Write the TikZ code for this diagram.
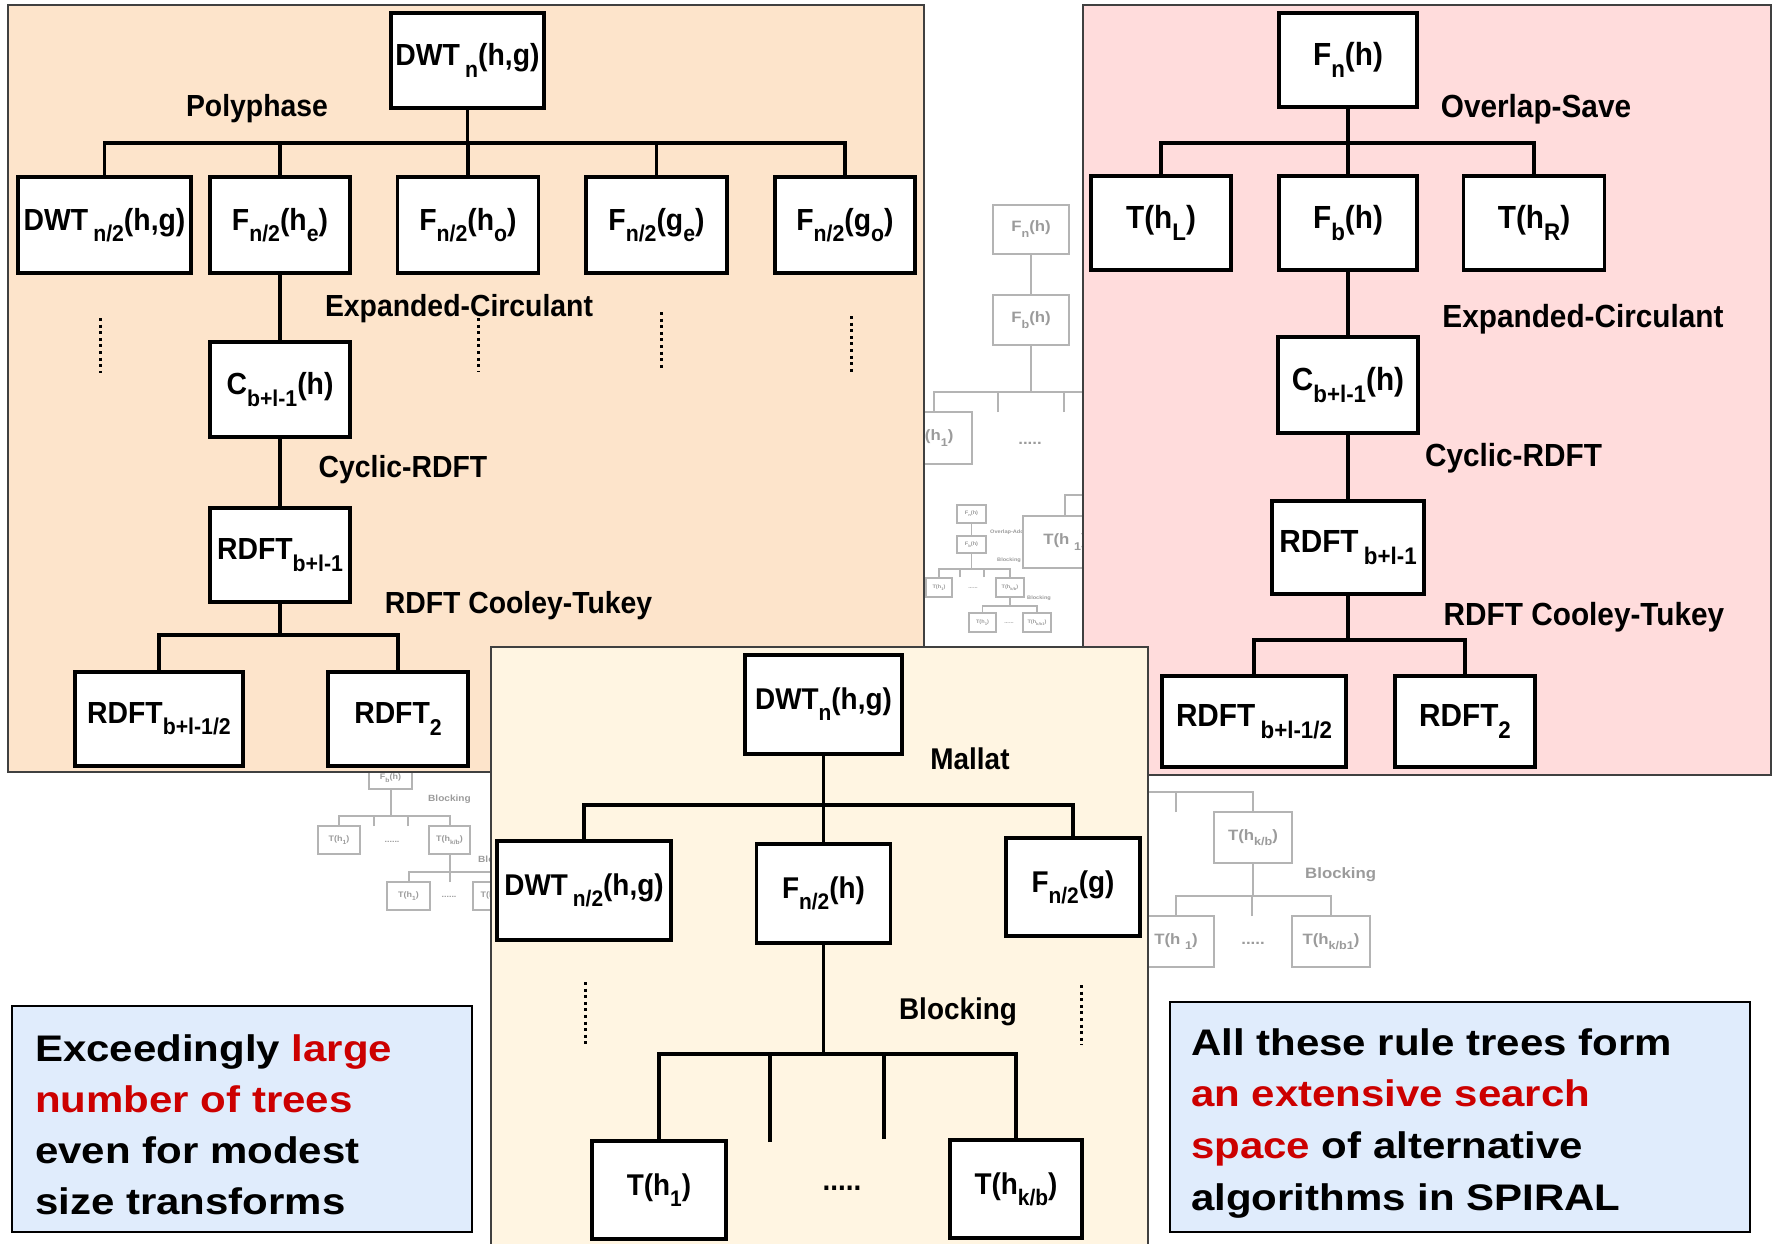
\documentclass[tikz,border=0pt]{standalone}
\usepackage{fontspec}
\setmainfont{Liberation Sans}
\newfontfamily\lblfont{Liberation Sans}[FakeStretch=1.12]
\newfontfamily\narrowfont{Liberation Sans}[FakeStretch=0.93]
\newfontfamily\bigfont{Liberation Sans}[FakeStretch=1.135]
\newcommand{\dn}[1]{\raisebox{-0.7ex}{\scalebox{0.75}{#1}}}
\newcommand{\tfont}[1]{\lblfont\bfseries\fontsize{#1}{#1}\selectfont}
\newcommand{\mfont}[1]{\narrowfont\bfseries\fontsize{#1}{#1}\selectfont}
\definecolor{peach}{RGB}{253,228,203}
\definecolor{rosebg}{RGB}{255,220,220}
\definecolor{creambg}{RGB}{255,245,226}
\definecolor{bluebg}{RGB}{224,236,252}
\definecolor{redtxt}{RGB}{204,0,0}
\definecolor{ghost}{RGB}{180,180,180}
\definecolor{ghosttxt}{RGB}{155,155,155}
\begin{document}
\begin{tikzpicture}[x=1pt,y=-1pt,
  tb/.style={draw=black, line width=3.5pt, fill=white, inner sep=0pt, font=\mfont{#1}},
  sz/.style 2 args={minimum width=#1, minimum height=#2},
  lab/.style={anchor=base, inner sep=0pt, font=\mfont{#1}},
  conn/.style={line width=3.5pt},
  dotl/.style={line width=3pt, dash pattern=on 3pt off 3.6pt},
  gb/.style={draw=ghost, line width=2pt, fill=white, inner sep=0pt, text=ghosttxt, font=\tfont{#1}},
  gt/.style={inner sep=0pt, text=ghosttxt, font=\tfont{#1}},
  gconn/.style={draw=ghost, line width=2pt},
  panel/.style={draw=black!75, line width=1.5pt}]
\useasboundingbox (0,0) rectangle (1777,1243);
\fill[white] (0,0) rectangle (1777,1243);

% ---------- faded tree 1 (between the upper panels) ----------
\node[gb=15, sz={76}{49}] (g1a) at (1031,229) {F\dn{n}(h)};
\node[gb=15, sz={76}{50}] (g1b) at (1031,320) {F\dn{b}(h)};
\draw[gconn] (g1a.south) -- (g1b.north);
\coordinate (g1bar) at (0,392);
\node[gb=15, sz={76}{52}] (g1c) at (934,438) {T(h\dn{1})};
\node[gb=15, sz={76}{52}] (g1d) at (1130,438) {T(h\dn{2})};
\draw[gconn] (g1b.south) -- (g1b.south |- g1bar);
\draw[gconn] (g1c.north) -- (g1c.north |- g1bar) -- (g1d.north |- g1bar) -- (g1d.north);
\coordinate (g1s1) at (998,412);
\coordinate (g1s2) at (1064,412);
\draw[gconn] (g1s1) -- (g1s1 |- g1bar);
\draw[gconn] (g1s2) -- (g1s2 |- g1bar);
\node[gt=15] (g1dots) at (1030,443) {.....};

% tiny tree
\node[gb=5, sz={29}{18}, line width=1.2pt] (t1) at (971.5,514) {F\dn{n}(h)};
\node[gt=5, anchor=west] (t1l) at (990,532) {Overlap-Add};
\node[gb=5, sz={29}{17}, line width=1.2pt] (t2) at (971.5,544.5) {F\dn{b}(h)};
\draw[gconn, line width=1.2pt] (t1.south) -- (t2.north);
\node[gt=5, anchor=west] (t2l) at (997,560) {Blocking};
\coordinate (tb1) at (0,569);
\node[gb=5, sz={26}{19}, line width=1.2pt] (t3) at (939,587.5) {T(h\dn{1})};
\node[gb=5, sz={28}{19}, line width=1.2pt] (t4) at (1010,587.5) {T(h\dn{k/b})};
\node[gt=5] (t34) at (973,588) {......};
\coordinate (ts1) at (960,577);
\coordinate (ts2) at (984,577);
\draw[gconn, line width=1.2pt] (t2.south) -- (t2.south |- tb1);
\draw[gconn, line width=1.2pt] (t3.north) -- (t3.north |- tb1) -- (t4.north |- tb1) -- (t4.north);
\draw[gconn, line width=1.2pt] (ts1) -- (ts1 |- tb1);
\draw[gconn, line width=1.2pt] (ts2) -- (ts2 |- tb1);
\node[gt=5, anchor=west] (t4l) at (1027,598) {Blocking};
\coordinate (tb2) at (0,606);
\node[gb=5, sz={27}{19}, line width=1.2pt] (t5) at (982.5,622.5) {T(h\dn{1})};
\node[gb=5, sz={28}{19}, line width=1.2pt] (t6) at (1037,622.5) {T(h\dn{k/b1})};
\node[gt=5] (t56) at (1009,623) {......};
\draw[gconn, line width=1.2pt] (t4.south) -- (t4.south |- tb2);
\draw[gconn, line width=1.2pt] (t5.north) -- (t5.north |- tb2) -- (t6.north |- tb2) -- (t6.north);

% big faded T(h 1)
\coordinate (g1bar2) at (0,495);
\coordinate (g1r) at (1110,495);
\node[gb=15, sz={84}{52}] (g1e) at (1065,542) {T(h \dn{1})};
\draw[gconn] (g1e.north) -- (g1e.north |- g1bar2) -- (g1r);

% ---------- faded tree 2 (below left panel) ----------
\node[gb=8, sz={43}{22}] (g2a) at (390.5,778) {F\dn{b}(h)};
\node[gt=9, anchor=west] (g2l1) at (428,799) {Blocking};
\coordinate (g2bar) at (0,816);
\node[gb=8, sz={42}{28}] (g2b) at (339,840) {T(h\dn{1})};
\node[gb=8, sz={41}{28}] (g2c) at (449.5,840) {T(h\dn{k/b})};
\node[gt=8] (g2dots) at (392,842) {......};
\coordinate (g2s1) at (374,826);
\coordinate (g2s2) at (408,826);
\draw[gconn] (g2a.south) -- (g2a.south |- g2bar);
\draw[gconn] (g2b.north) -- (g2b.north |- g2bar) -- (g2c.north |- g2bar) -- (g2c.north);
\draw[gconn] (g2s1) -- (g2s1 |- g2bar);
\draw[gconn] (g2s2) -- (g2s2 |- g2bar);
\node[gt=9, anchor=west] (g2l2) at (478,860) {Blocking};
\coordinate (g2bar2) at (0,872);
\node[gb=8, sz={43}{28}] (g2d) at (408.5,896) {T(h\dn{1})};
\node[gb=8, sz={43}{28}] (g2e) at (494,896) {T(h\dn{k/b})};
\node[gt=8] (g2dots2) at (449,897) {......};
\coordinate (g2s3) at (450,882);
\draw[gconn] (g2c.south) -- (g2c.south |- g2bar2);
\draw[gconn] (g2d.north) -- (g2d.north |- g2bar2) -- (g2e.north |- g2bar2) -- (g2e.north);
\draw[gconn] (g2s3) -- (g2s3 |- g2bar2);

% ---------- faded tree 3 (right of middle panel) ----------
\coordinate (g3bar) at (0,792);
\coordinate (g3l) at (1100,792);
\node[gb=15, sz={78}{51}] (g3a) at (1253,837.5) {T(h\dn{k/b})};
\draw[gconn] (g3l) -- (g3a.north |- g3bar) -- (g3a.north);
\coordinate (g3s) at (1176,812);
\draw[gconn] (g3s) -- (g3s |- g3bar);
\node[gt=15] (g3dots) at (1138,844) {.....};
\node[gt=15, anchor=west] (g3lab) at (1305,875) {Blocking};
\coordinate (g3bar2) at (0,896);
\node[gb=15, sz={76}{51}] (g3b) at (1176,941.5) {T(h \dn{1})};
\node[gb=15, sz={78}{51}] (g3c) at (1331,941.5) {T(h\dn{k/b1})};
\coordinate (g3s2) at (1252,916);
\draw[gconn] (g3a.south) -- (g3a.south |- g3bar2);
\draw[gconn] (g3b.north) -- (g3b.north |- g3bar2) -- (g3c.north |- g3bar2) -- (g3c.north);
\draw[gconn] (g3s2) -- (g3s2 |- g3bar2);
\node[gt=15] (g3dots2) at (1253,943) {.....};

% ---------- orange panel ----------
\filldraw[panel, fill=peach] (8,5) rectangle (924,772);
\node[tb=30.5, sz={153}{95}] (oR) at (467.5,60.5) {DWT\,\dn{n}(h,g)};
\node[lab=30.5] (oLp) at (257,116) {Polyphase};
\coordinate (ob1) at (0,143);
\node[tb=30.5, sz={173}{96}] (o1) at (104.5,225) {DWT\,\dn{n/2}(h,g)};
\node[tb=30.5, sz={140}{96}] (o2) at (280,225) {F\dn{n/2}(h\dn{e})};
\node[tb=30.5, sz={141}{96}] (o3) at (468,225) {F\dn{n/2}(h\dn{o})};
\node[tb=30.5, sz={141}{96}] (o4) at (656.5,225) {F\dn{n/2}(g\dn{e})};
\node[tb=30.5, sz={140}{96}] (o5) at (845,225) {F\dn{n/2}(g\dn{o})};
\draw[conn] (oR.south) -- (oR.south |- ob1);
\draw[conn] (o1.north) -- (o1.north |- ob1) -- (o5.north |- ob1) -- (o5.north);
\foreach \c in {o2,o3,o4} \draw[conn] (\c.north) -- (\c.north |- ob1);
\coordinate (od1a) at (100,318); \coordinate (od1b) at (100,373);
\coordinate (od2a) at (478,318); \coordinate (od2b) at (478,372);
\coordinate (od3a) at (661,312); \coordinate (od3b) at (661,369);
\coordinate (od4a) at (851,316); \coordinate (od4b) at (851,374);
\draw[dotl] (od1a) -- (od1b);
\draw[dotl] (od2a) -- (od2b);
\draw[dotl] (od3a) -- (od3b);
\draw[dotl] (od4a) -- (od4b);
\node[lab=30.5] (oLe) at (459,316) {Expanded-Circulant};
\node[tb=30.5, sz={140}{95}] (oC) at (280,389.5) {C\dn{b+l-1}(h)};
\draw[conn] (o2.south) -- (oC.north);
\node[lab=30.5] (oLc) at (403,477) {Cyclic-RDFT};
\node[tb=30.5, sz={140}{94}] (oD) at (280,555) {RDFT\dn{b+l-1}};
\draw[conn] (oC.south) -- (oD.north);
\node[lab=30.5] (oLr) at (518.5,613) {RDFT Cooley-Tukey};
\coordinate (ob2) at (0,635);
\node[tb=30.5, sz={168}{94}] (oL) at (159,719) {RDFT\dn{b+l-1/2}};
\node[tb=30.5, sz={140}{94}] (oR2) at (398,719) {RDFT\dn{2}};
\draw[conn] (oD.south) -- (oD.south |- ob2);
\draw[conn] (oL.north) -- (oL.north |- ob2) -- (oR2.north |- ob2) -- (oR2.north);

% ---------- pink panel ----------
\filldraw[panel, fill=rosebg] (1083,5) rectangle (1771,775);
\node[tb=32, sz={138}{94}] (pF) at (1348,60) {F\dn{n}(h)};
\node[lab=32] (pLo) at (1536,117) {Overlap-Save};
\coordinate (pb1) at (0,143);
\node[tb=32, sz={140}{94}] (pTL) at (1161,223) {T(h\dn{L})};
\node[tb=32, sz={138}{94}] (pFb) at (1348,223) {F\dn{b}(h)};
\node[tb=32, sz={141}{94}] (pTR) at (1534,223) {T(h\dn{R})};
\draw[conn] (pF.south) -- (pFb.north);
\draw[conn] (pTL.north) -- (pTL.north |- pb1) -- (pTR.north |- pb1) -- (pTR.north);
\node[lab=32] (pLe) at (1583,327) {Expanded-Circulant};
\node[tb=32, sz={140}{96}] (pC) at (1348,385) {C\dn{b+l-1}(h)};
\draw[conn] (pFb.south) -- (pC.north);
\node[lab=32] (pLc) at (1513.5,466) {Cyclic-RDFT};
\node[tb=32, sz={152}{93}] (pD) at (1348,547.5) {RDFT\,\dn{b+l-1}};
\draw[conn] (pC.south) -- (pD.north);
\node[lab=32] (pLr) at (1584,625) {RDFT Cooley-Tukey};
\coordinate (pb2) at (0,640);
\node[tb=32, sz={184}{91}] (pL) at (1254,721.5) {RDFT\,\dn{b+l-1/2}};
\node[tb=32, sz={140}{91}] (pR2) at (1465,721.5) {RDFT\dn{2}};
\draw[conn] (pD.south) -- (pD.south |- pb2);
\draw[conn] (pL.north) -- (pL.north |- pb2) -- (pR2.north |- pb2) -- (pR2.north);

% ---------- cream panel ----------
\filldraw[panel, fill=creambg] (491,647) rectangle (1148,1262);
\node[tb=30, sz={157}{99}] (mR) at (823.5,704.5) {DWT\dn{n}(h,g)};
\node[lab=30] (mLm) at (970,769.5) {Mallat};
\coordinate (mb1) at (0,805);
\node[tb=30, sz={174}{99}] (m1) at (584,890.5) {DWT\,\dn{n/2}(h,g)};
\node[tb=30, sz={134}{99}] (m2) at (823.5,893.5) {F\dn{n/2}(h)};
\node[tb=30, sz={134}{98}] (m3) at (1073,887) {F\dn{n/2}(g)};
\draw[conn] (mR.south) -- (mR.south |- mb1);
\draw[conn] (m1.north) -- (m1.north |- mb1) -- (m3.north |- mb1) -- (m3.north);
\draw[conn] (m2.north) -- (m2.north |- mb1);
\coordinate (md1a) at (585,982); \coordinate (md1b) at (585,1045);
\coordinate (md2a) at (1081,985); \coordinate (md2b) at (1081,1045);
\draw[dotl] (md1a) -- (md1b);
\draw[dotl] (md2a) -- (md2b);
\node[lab=30] (mLb) at (958,1019) {Blocking};
\coordinate (mb2) at (0,1054);
\node[tb=30, sz={134}{98}] (mT1) at (659,1190) {T(h\dn{1})};
\node[tb=30, sz={132}{98}] (mT2) at (1016,1189) {T(h\dn{k/b})};
\node[inner sep=0pt, font=\mfont{30}] (mdots) at (842,1188) {.....};
\coordinate (ms1) at (770,1142);
\coordinate (ms2) at (884,1139);
\draw[conn] (m2.south) -- (m2.south |- mb2);
\draw[conn] (mT1.north) -- (mT1.north |- mb2) -- (mT2.north |- mb2) -- (mT2.north);
\draw[conn] (ms1) -- (ms1 |- mb2);
\draw[conn] (ms2) -- (ms2 |- mb2);

% ---------- blue text boxes ----------
\filldraw[draw=black, line width=2.5pt, fill=bluebg] (12,1006) rectangle (472,1232);
\node[anchor=base west, inner sep=0pt] (txl) at (35,1061)
  {\parbox[t]{430pt}{\bigfont\bfseries\fontsize{37}{51}\selectfont
   Exceedingly {\color{redtxt}large}\\
   {\color{redtxt}number of trees}\\
   even for modest\\
   size transforms}};
\filldraw[draw=black, line width=2.5pt, fill=bluebg] (1170,1002) rectangle (1750,1232);
\node[anchor=base west, inner sep=0pt] (txr) at (1191,1055)
  {\parbox[t]{550pt}{\bigfont\bfseries\fontsize{37}{51.7}\selectfont
   All these rule trees form\\
   {\color{redtxt}an extensive search}\\
   {\color{redtxt}space} of alternative\\
   algorithms in SPIRAL}};
\end{tikzpicture}
\end{document}
